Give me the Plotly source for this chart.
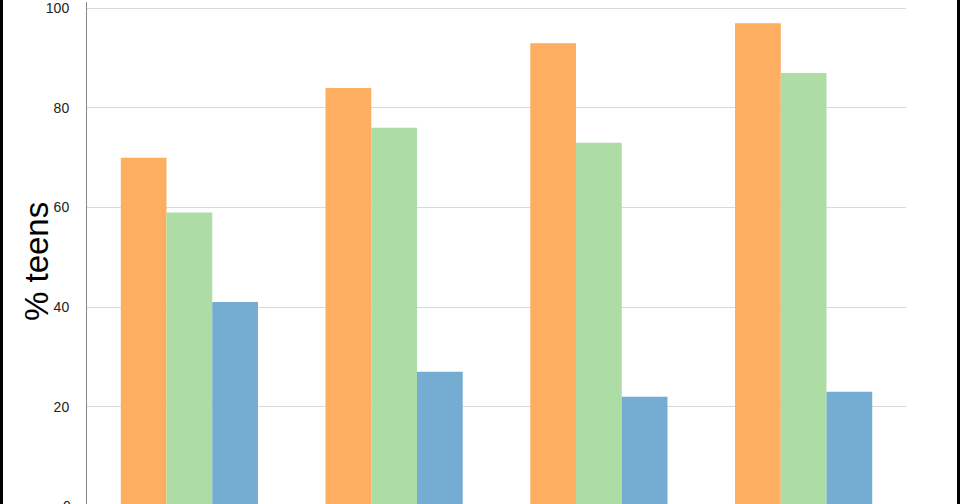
import plotly.graph_objects as go

# groups (axis labels are cropped off in the original)
groups = ["Group 1", "Group 2", "Group 3", "Group 4"]
orange_vals = [70, 84, 93, 97]
green_vals = [59, 76, 73, 87]
blue_vals = [41, 27, 22, 23]
ytick_vals = [0, 20, 40, 60, 80, 100]

W, H = 960, 504
L, R = 87, 54  # plot area in pixels
pw = W - L - R
px_per_unit = 5.0   # 20 units = 100 px
top_px = 6.3        # where 100 sits

fig = go.Figure()
fig.add_trace(go.Bar(x=groups, y=orange_vals, marker_color="#FDAE61", marker_line_width=0, name="s1"))
fig.add_trace(go.Bar(x=groups, y=green_vals, marker_color="#ADDDA5", marker_line_width=0, name="s2"))
fig.add_trace(go.Bar(x=groups, y=blue_vals, marker_color="#75ADD2", marker_line_width=0, name="s3"))

# plot spans the full height; 0 sits just below the bottom edge of the picture
ymax = 100 + top_px / px_per_unit
ymin = ymax - H / px_per_unit
fig.update_yaxes(range=[ymin, ymax], tickvals=ytick_vals, showgrid=True, gridcolor="#D9D9D9",
                 gridwidth=1, zeroline=False, showline=True, linecolor="#868686", linewidth=1,
                 ticks="", ticklabelstandoff=14, ticklabeloverflow="allow",
                 tickfont=dict(family="Liberation Sans", size=14, color="#222222"))
fig.update_xaxes(showticklabels=False, showgrid=False, zeroline=False, showline=False)

fig.add_annotation(text="% teens", xref="paper", yref="paper", x=(36 - L) / pw, y=0.482,
                   xanchor="center", yanchor="middle", textangle=-90, showarrow=False,
                   font=dict(family="Liberation Sans", size=33, color="#000000"))
fig.add_annotation(text="0", xref="paper", yref="paper", x=(73 - L) / pw, y=(0 - ymin) / (ymax - ymin),
                   xanchor="right", yanchor="middle", showarrow=False,
                   font=dict(family="Liberation Sans", size=14, color="#222222"))

# black edges left and right
fig.add_shape(type="rect", xref="paper", yref="paper", x0=-L / pw, x1=(3 - L) / pw,
              y0=-0.05, y1=1.05, fillcolor="black", line_width=0)
fig.add_shape(type="rect", xref="paper", yref="paper", x0=(957 - L) / pw, x1=(960 - L) / pw,
              y0=-0.05, y1=1.05, fillcolor="black", line_width=0)

fig.update_layout(width=W, height=H, barmode="group", bargap=0.33, bargroupgap=0,
                  showlegend=False, plot_bgcolor="white", paper_bgcolor="white",
                  margin=dict(l=L, r=R, t=0, b=0))
fig.write_html("out.html", config={"displayModeBar": False},
               post_script="document.body.style.margin='0';document.body.style.overflow='hidden';")
